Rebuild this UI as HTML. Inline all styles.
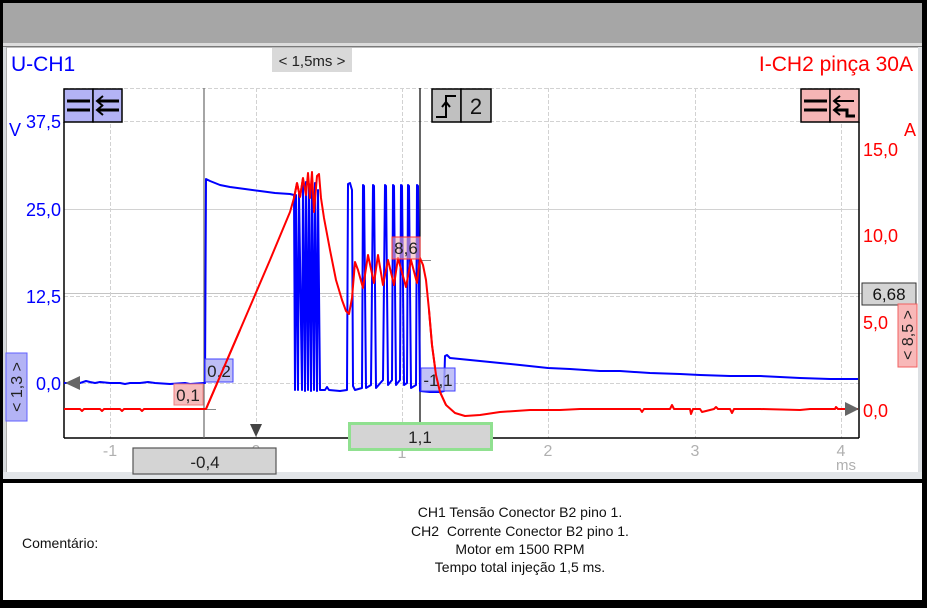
<!DOCTYPE html>
<html><head><meta charset="utf-8"><style>
html,body{margin:0;padding:0;background:#fff;}
svg{display:block;}
text{font-family:"Liberation Sans",Arial,sans-serif;}
</style></head><body>
<svg width="927" height="608" viewBox="0 0 927 608" xmlns="http://www.w3.org/2000/svg">
<!-- frame -->
<rect x="0" y="0" width="927" height="608" fill="#fff"/>
<rect x="3" y="3" width="919" height="40" fill="#a6a6a6"/>
<rect x="3" y="43" width="919" height="3" fill="#dcdcdc"/>
<rect x="3" y="46" width="919" height="1.5" fill="#7a7a7a"/>
<rect x="3" y="47" width="4" height="426" fill="#d6d9dc"/>
<rect x="6" y="47" width="1" height="426" fill="#b0b0b0"/>
<rect x="918" y="47" width="4" height="426" fill="#dde0e3"/>
<rect x="3" y="472" width="919" height="7" fill="#e2e5e8"/>
<rect x="0" y="479" width="927" height="4" fill="#000"/>
<rect x="0" y="0" width="927" height="3" fill="#000"/>
<rect x="0" y="0" width="3" height="608" fill="#000"/>
<rect x="922" y="0" width="5" height="608" fill="#000"/>
<rect x="0" y="600" width="927" height="8" fill="#000"/>

<!-- headers -->
<text x="11" y="71" font-size="21" fill="#0000ff">U-CH1</text>
<text x="913" y="71" font-size="21" fill="#ff0000" text-anchor="end">I-CH2 pinça 30A</text>
<rect x="272" y="48" width="80" height="24" fill="#d9d9d9"/>
<text x="312" y="66" font-size="15" fill="#222" text-anchor="middle">&lt; 1,5ms &gt;</text>

<!-- grid -->
<g stroke="#d2d2d2" stroke-width="1" fill="none">
<line x1="64" y1="88.5" x2="859" y2="88.5" stroke-dasharray="4,2"/>
<line x1="64" y1="121.5" x2="859" y2="121.5" stroke-dasharray="4,2"/>
<line x1="64" y1="209.5" x2="859" y2="209.5"/>
<line x1="64" y1="296.5" x2="859" y2="296.5" stroke-dasharray="4,2"/>
<line x1="64" y1="293.5" x2="862" y2="293.5" stroke="#c4c4c4"/>
<line x1="64" y1="383.5" x2="859" y2="383.5" stroke-dasharray="4,2"/>
<line x1="110.5" y1="88" x2="110.5" y2="438" stroke-dasharray="4,2"/>
<line x1="256.5" y1="88" x2="256.5" y2="438" stroke-dasharray="4,2"/>
<line x1="402.5" y1="88" x2="402.5" y2="438" stroke-dasharray="4,2"/>
<line x1="548.5" y1="88" x2="548.5" y2="438" stroke-dasharray="4,2"/>
<line x1="695.5" y1="88" x2="695.5" y2="438" stroke-dasharray="4,2"/>
<line x1="841.5" y1="88" x2="841.5" y2="438" stroke-dasharray="4,2"/>
</g>
<!-- axes -->
<g stroke="#000" stroke-width="1.5">
<line x1="64" y1="122" x2="64" y2="438"/>
<line x1="859" y1="122" x2="859" y2="438"/>
<line x1="64" y1="438" x2="859" y2="438"/>
</g>
<!-- cursors -->
<line x1="204" y1="88" x2="204" y2="438" stroke="#6a6a6a" stroke-width="1.2"/>
<line x1="420" y1="88" x2="420" y2="423" stroke="#000" stroke-width="1.2"/>
<line x1="206" y1="409.5" x2="216" y2="409.5" stroke="#888"/>
<line x1="420" y1="260.5" x2="431" y2="260.5" stroke="#888"/>

<!-- axis labels -->
<g font-size="18" fill="#0000ff">
<text x="9" y="136">V</text>
<text x="61" y="128" text-anchor="end">37,5</text>
<text x="61" y="216" text-anchor="end">25,0</text>
<text x="61" y="303" text-anchor="end">12,5</text>
<text x="61" y="390" text-anchor="end">0,0</text>
</g>
<g font-size="18" fill="#ff0000">
<text x="904" y="136">A</text>
<text x="863" y="156">15,0</text>
<text x="863" y="242">10,0</text>
<text x="863" y="329">5,0</text>
<text x="863" y="417">0,0</text>
</g>
<g font-size="16" fill="#b0b0b0" text-anchor="middle">
<text x="110" y="456">-1</text>
<text x="256" y="456">0</text>
<text x="402" y="458">1</text>
<text x="548" y="456">2</text>
<text x="695" y="456">3</text>
<text x="841" y="456">4</text>
<text x="846" y="470" font-size="15">ms</text>
</g>

<!-- blue trace -->
<polyline fill="none" stroke="#0000ff" stroke-width="2" stroke-linejoin="round" points="
64,383 80,383 86,381 90,382 95,383 100,382 110,383 120,383 125,384 130,383 140,383 148,382 155,383 170,384 185,383 190,384 204,383
205,383 206,179 210,181 215,183 220,185 230,187 245,189 260,191 275,193 290,194 294,195
295,390 296,195 298,390 299,192 302,390 303,184 305,391 306,182 308,390 309,184 311,391 312,182 314,390 315,183 317,391 318,190 320,390
325,390 327,387 329,390 340,391 347,390 348,184 350,183 352,190 353,386 355,390 362,388 363,185 364,186 366,388 371,385 373,185 374,186 376,388 383,380 385,185 386,186 388,385 392,380 393,185 394,186 396,385 400,380 401,185 402,186 404,385 407,383 408,185 409,186 411,388 416,385 417,185 418,186 420,391 430,392 440,392 444,391
445,356 447,355 450,358 470,360 500,363 520,365 548,368 570,369 600,371 620,371 650,373 680,374 700,375 730,376 760,376 780,377 800,378 830,379 845,379 858,379"/>

<!-- red trace -->
<polyline fill="none" stroke="#ff0000" stroke-width="2" stroke-linejoin="round" points="
64,409 80,409 82,411 84,409 100,409 102,411 104,409 120,409 122,411 124,409 140,409 142,411 144,409 160,409 204,409 206,409
240,330 270,260 285,224 290,212 294,198 297,183 300,197 303,178 306,195 308,173 310,198 312,172 314,212 317,176 319,174 321,198
324,218 330,250 336,280 342,300 346,311 349,314 352,298 355,262 358,270 363,288 368,255 374,283 378,255 383,285 388,260 394,285 398,258 406,287 411,260 417,283 420,258
423,265 426,280 429,310 432,345 436,375 440,392 446,405 455,413 465,416 480,415 500,412 530,410 560,410 580,409 620,409 640,409 642,412 644,409 670,409 672,405 674,409 690,409 691,414 693,409 700,409 702,412 714,409 716,407 718,409 730,409 732,413 734,409 760,409 800,410 810,409 835,409 836,407 838,409 858,409"/>

<!-- markers -->
<polygon points="65,383 80,376 80,390" fill="#666"/>
<polygon points="859,409 845,402 845,416" fill="#666"/>
<polygon points="250,424 262,424 256,437" fill="#444"/>

<!-- icons -->
<g stroke="#000" stroke-width="1.5">
<rect x="64" y="89" width="29" height="33" fill="#b3b3f5"/>
<rect x="93" y="89" width="29" height="33" fill="#b3b3f5"/>
<rect x="432" y="89" width="29" height="33" fill="#c0c0c0"/>
<rect x="461" y="89" width="30" height="33" fill="#c0c0c0"/>
<rect x="801" y="89" width="29" height="33" fill="#f5b5b5"/>
<rect x="830" y="89" width="29" height="33" fill="#f5b5b5"/>
</g>
<g stroke="#000" stroke-width="3" fill="none">
<line x1="67" y1="101" x2="90" y2="101"/>
<line x1="67" y1="110" x2="90" y2="110"/>
<line x1="98" y1="101" x2="119" y2="101"/>
<line x1="98" y1="110" x2="119" y2="110"/>
<line x1="804" y1="101" x2="827" y2="101"/>
<line x1="804" y1="110" x2="827" y2="110"/>
</g>
<g stroke="#000" stroke-width="2" fill="none">
<polyline points="103,96 97,101 103,106"/>
<polyline points="103,105 97,110 103,115"/>
<polyline points="840,96 834,101 840,106"/>
<polyline points="840,105 834,110 840,115"/>
<line x1="835" y1="101" x2="854" y2="101"/>
<polyline points="835,110 847,110 847,116 855,116" stroke-width="3"/>
<polyline points="436,117 446,117 446,96 456,96" stroke-width="2"/>
<polyline points="442,107 446,102 450,107"/>
</g>
<text x="476" y="114" font-size="22" fill="#111" text-anchor="middle">2</text>

<!-- cursor labels -->
<rect x="205" y="359" width="28" height="23" fill="#b3b3f5" fill-opacity="0.85" stroke="#4040ff"/>
<text x="219" y="377" font-size="17" fill="#222" text-anchor="middle">0,2</text>
<rect x="174" y="384" width="29" height="21" fill="#f5b5b5" fill-opacity="0.9" stroke="#f08080"/>
<text x="188" y="401" font-size="17" fill="#222" text-anchor="middle">0,1</text>
<rect x="392" y="237" width="28" height="22" fill="#f5b5b5" fill-opacity="0.6" stroke="#ff3030"/>
<text x="406" y="254" font-size="17" fill="#222" text-anchor="middle">8,6</text>
<rect x="421" y="368" width="34" height="23" fill="#b3b3f5" fill-opacity="0.8" stroke="#4040ff"/>
<text x="438" y="386" font-size="17" fill="#222" text-anchor="middle">-1,1</text>
<polyline fill="none" stroke="#ff0000" stroke-width="2" points="429,310 432,345 436,375 440,392 446,405"/>
<polyline fill="none" stroke="#ff0000" stroke-width="2" points="294,198 297,183 300,197 303,178"/>
<polyline fill="none" stroke="#ff0000" stroke-width="2" points="206,409 240,330"/>

<!-- side boxes -->
<rect x="6" y="353" width="21" height="68" fill="#b3b3f5" stroke="#6060ff"/>
<text transform="translate(22,387) rotate(-90)" font-size="16" fill="#222" text-anchor="middle">&lt; 1,3 &gt;</text>
<rect x="862" y="283" width="54" height="22" fill="#d4d4d4" stroke="#333"/>
<text x="889" y="300" font-size="17" fill="#111" text-anchor="middle">6,68</text>
<rect x="898" y="304" width="19" height="63" fill="#f8b8b8" stroke="#f06060"/>
<text transform="translate(913,335) rotate(-90)" font-size="16" fill="#222" text-anchor="middle">&lt; 8,5 &gt;</text>

<!-- bottom boxes -->
<rect x="133" y="448" width="143" height="26" fill="#d4d4d4" stroke="#555" stroke-width="1.2"/>
<text x="205" y="468" font-size="17" fill="#222" text-anchor="middle">-0,4</text>
<rect x="349.5" y="423.5" width="142" height="26" fill="#d4d4d4" stroke="#90e090" stroke-width="3"/>
<text x="420" y="443" font-size="17" fill="#222" text-anchor="middle">1,1</text>

<!-- comment -->
<text x="22" y="548" font-size="14" fill="#111">Comentário:</text>
<g font-size="14" fill="#111" text-anchor="middle">
<text x="520" y="517">CH1 Tensão Conector B2 pino 1.</text>
<text x="520" y="536" xml:space="preserve">CH2  Corrente Conector B2 pino 1.</text>
<text x="520" y="554">Motor em 1500 RPM</text>
<text x="520" y="572">Tempo total injeção 1,5 ms.</text>
</g>
</svg>
</body></html>
